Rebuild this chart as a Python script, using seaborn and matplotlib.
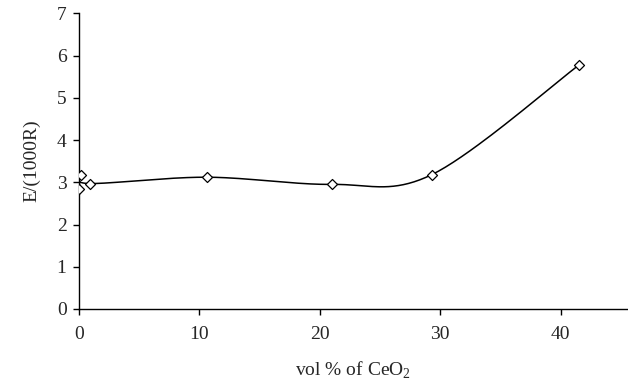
import numpy as np
import pandas as pd
import matplotlib
matplotlib.use('Agg')
import matplotlib.pyplot as plt
import seaborn as sns

# data
vol_pct = [0.03, 0.14, 0.9, 10.6, 21.0, 29.3, 41.5]
e_val = [2.85, 3.17, 2.97, 3.12, 2.95, 3.18, 5.77]
x_ticks = [0, 10, 20, 30, 40]
y_ticks = [0, 1, 2, 3, 4, 5, 6, 7]

sns.set_theme(style='white')
plt.rcParams['font.family'] = ['Liberation Serif', 'DejaVu Serif']
plt.rcParams['mathtext.fontset'] = 'custom'
plt.rcParams['mathtext.rm'] = 'Liberation Serif'


def smooth_curve(xs, ys, n=40):
    # Excel-style smoothed line: cubic bezier between points
    p = np.column_stack([xs, ys])
    pts = []
    for i in range(len(p) - 1):
        p0 = p[i - 1] if i > 0 else p[i]
        p3 = p[i + 2] if i + 2 < len(p) else p[i + 1]
        c1 = p[i] + (p[i + 1] - p0) / 6
        c2 = p[i + 1] - (p3 - p[i]) / 6
        t = np.linspace(0, 1, n)[:, None]
        seg = ((1 - t) ** 3) * p[i] + 3 * ((1 - t) ** 2) * t * c1 \
            + 3 * (1 - t) * t ** 2 * c2 + t ** 3 * p[i + 1]
        pts.append(seg)
    pts = np.vstack(pts)
    return pts[:, 0], pts[:, 1]


sx, sy = smooth_curve(vol_pct, e_val)
df = pd.DataFrame({'vol': vol_pct, 'E': e_val})

fig = plt.figure(figsize=(6.28, 3.86), dpi=100)
ax = fig.add_axes([0.1258, 0.1995, 0.8742, 0.766])

sns.lineplot(x=sx, y=sy, sort=False, estimator=None, color='black',
             linewidth=1.1, ax=ax)
sns.scatterplot(data=df, x='vol', y='E', marker='D', s=26, color='white',
                edgecolor='black', linewidth=0.9, zorder=3, ax=ax)

ax.set_xlim(0, 45.6)
ax.set_ylim(0, 7)
ax.set_xticks(x_ticks)
ax.set_yticks(y_ticks)
ax.tick_params(axis='both', direction='out', length=4, width=1,
               color='black', labelsize=14, bottom=True, left=True)
ax.tick_params(axis='x', pad=8)
ax.tick_params(axis='y', pad=5)
for s in ['top', 'right']:
    ax.spines[s].set_visible(False)
for s in ['left', 'bottom']:
    ax.spines[s].set_color('black')
    ax.spines[s].set_linewidth(1)

ax.set_xlabel('vol % of CeO$_{2}$', fontsize=14, labelpad=12)
ax.set_ylabel('E/(1000R)', fontsize=14, labelpad=12)

fig.savefig('out.png', dpi=100)
